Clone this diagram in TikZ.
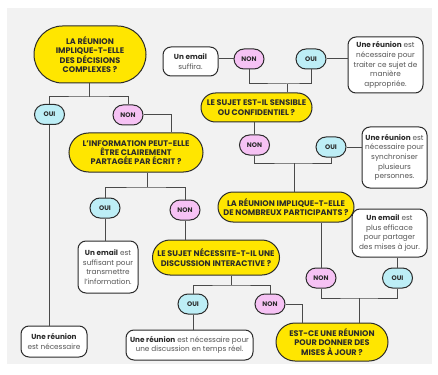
\documentclass[tikz,border=0pt]{standalone}
\usepackage{fontspec}
\setmainfont{Poppins}
\usetikzlibrary{shapes.misc}
\definecolor{ink}{HTML}{2B2B2B}
\definecolor{wire}{HTML}{4A4A4A}
\definecolor{txt}{HTML}{555555}
\definecolor{panel}{HTML}{F2F2F2}
\definecolor{qyel}{HTML}{FFE600}
\definecolor{yes}{HTML}{BDEEF6}
\definecolor{no}{HTML}{F6C2F4}
\tikzset{
  link/.style={line width=1pt, color=wire},
  quest/.style={rounded rectangle, draw=ink, fill=qyel, line width=1pt, align=center,
    inner sep=1pt, font=\fontsize{8.1}{9.3}\selectfont\bfseries, text=ink},
  pill/.style={rounded rectangle, draw=ink, fill=#1, line width=1pt, minimum width=32pt,
    minimum height=20pt, inner sep=1pt, font=\fontsize{6.6}{7}\selectfont\bfseries, text=ink},
  ans/.style={rectangle, rounded corners=8pt, draw=ink, fill=white, line width=1pt,
    align=center, inner sep=1pt, font=\fontsize{7.3}{9.6}\selectfont, text=txt},
}
\newcommand{\bb}[1]{\textbf{\color{ink}#1}}

\begin{document}
\begin{tikzpicture}[x=1pt,y=-1pt]
  \useasboundingbox (0,0) rectangle (438,374);
  \fill[panel] (7,8) rectangle (432,364);

  \node[quest, minimum width=114pt, minimum height=57pt] (q1) at (90,54.5)
    {LA RÉUNION\\IMPLIQUE-T-ELLE\\DES DÉCISIONS\\COMPLEXES ?};
  \node[pill=yes] (oui1) at (49.5,114.5) {OUI};
  \node[pill=no]  (non1) at (128,115) {NON};
  \node[ans, minimum width=66pt, minimum height=31pt] (r1) at (54,341.5)
    {\bb{Une réunion}\\est nécessaire};

  \node[quest, minimum width=136pt, minimum height=39pt] (q2) at (136,152.5)
    {L'INFORMATION PEUT-ELLE\\ÊTRE CLAIREMENT\\PARTAGÉE PAR ÉCRIT ?};
  \node[pill=yes] (oui2) at (105,208) {OUI};
  \node[pill=no]  (non2) at (185,210) {NON};
  \node[ans, minimum width=60pt, minimum height=52pt] (e2) at (108,267)
    {\bb{Un email} est\\suffisant pour\\transmettre\\l'information.};

  \node[quest, minimum width=129pt, minimum height=35pt] (q3) at (216,257.5)
    {LE SUJET NÉCESSITE-T-IL UNE\\DISCUSSION INTERACTIVE ?};
  \node[pill=yes] (oui3) at (193,304) {OUI};
  \node[pill=no]  (non3) at (270,304) {NON};
  \node[ans, minimum width=127pt, minimum height=30pt] (r3) at (189.5,345)
    {\bb{Une réunion} est nécessaire pour\\une discussion en temps réel.};

  \node[quest, minimum width=114pt, minimum height=38pt] (q6) at (332,342)
    {EST-CE UNE RÉUNION\\POUR DONNER DES\\MISES À JOUR ?};
  \node[pill=no]  (non6) at (321,278) {NON};
  \node[pill=yes] (oui6) at (397.5,278) {OUI};
  \node[ans, minimum width=75pt, minimum height=48pt] (e6) at (389.5,233)
    {\bb{Un email} est\\plus efficace\\pour partager\\des mises à jour.};

  \node[quest, minimum width=138pt, minimum height=30pt] (q5) at (286,207)
    {LA RÉUNION IMPLIQUE-T-ELLE\\DE NOMBREUX PARTICIPANTS ?};
  \node[pill=no]  (non5) at (254.5,145) {NON};
  \node[pill=yes] (oui5) at (331,147) {OUI};
  \node[ans, minimum width=65pt, minimum height=61pt] (r5) at (394.5,157.5)
    {\bb{Une réunion} est\\nécessaire pour\\synchroniser\\plusieurs\\personnes.};

  \node[quest, minimum width=113pt, minimum height=29pt] (q4) at (256.5,107.5)
    {LE SUJET EST-IL SENSIBLE\\OU CONFIDENTIEL ?};
  \node[pill=no]  (non4) at (249,59) {NON};
  \node[pill=yes] (oui4) at (311,59) {OUI};
  \node[ans, minimum width=55pt, minimum height=29pt] (e4) at (190.5,61.5)
    {\bb{Un email}\\suffira.};
  \node[ans, minimum width=75pt, minimum height=56pt] (r4) at (385.5,65)
    {\bb{Une réunion} est\\nécessaire pour\\traiter ce sujet de\\manière\\appropriée.};

  \coordinate (f1) at (89,97);
  \coordinate (f2) at (147,187);
  \coordinate (f3) at (231,285);
  \coordinate (f4) at (287,84);
  \coordinate (f5) at (294,163);
  \coordinate (f6) at (359,298);

  \draw[link] (f1 |- q1.south) -- (f1);
  \draw[link] (oui1.north) |- (f1) -| (non1.north);
  \draw[link] (oui1.south) -- (oui1.south |- r1.north);
  \draw[link] (non1.east) -| ([xshift=35pt]q2.north);

  \draw[link] (f2 |- q2.south) -- (f2);
  \draw[link] (oui2.north) |- (f2) -| (non2.north);
  \draw[link] (oui2.south) -- (oui2.south |- e2.north);
  \draw[link] (non2.south) -- (non2.south |- q3.north);

  \draw[link] (f3 |- q3.south) -- (f3);
  \draw[link] (oui3.north) |- (f3) -| (non3.north);
  \draw[link] (oui3.south) -- (oui3.south |- r3.north);
  \draw[link] (non3.east) -| ([xshift=-30pt]q6.north);

  \draw[link] (f6 |- q6.north) -- (f6);
  \draw[link] (non6.south) |- (f6) -| (oui6.south);
  \draw[link] (oui6.north) -- (oui6.north |- e6.south);
  \draw[link] (non6.north) -- (non6.north |- q5.south);

  \draw[link] (f5 |- q5.north) -- (f5);
  \draw[link] (non5.south) |- (f5) -| (oui5.south);
  \draw[link] (oui5.east) -- (oui5.east -| r5.west);
  \draw[link] (non5.north) -- (non5.north |- q4.south);

  \draw[link] (f4 |- q4.north) -- (f4);
  \draw[link] (non4.south) |- (f4) -| (oui4.south);
  \draw[link] (non4.west) -- (non4.west -| e4.east);
  \draw[link] (oui4.east) -- (oui4.east -| r4.west);
\end{tikzpicture}
\end{document}
